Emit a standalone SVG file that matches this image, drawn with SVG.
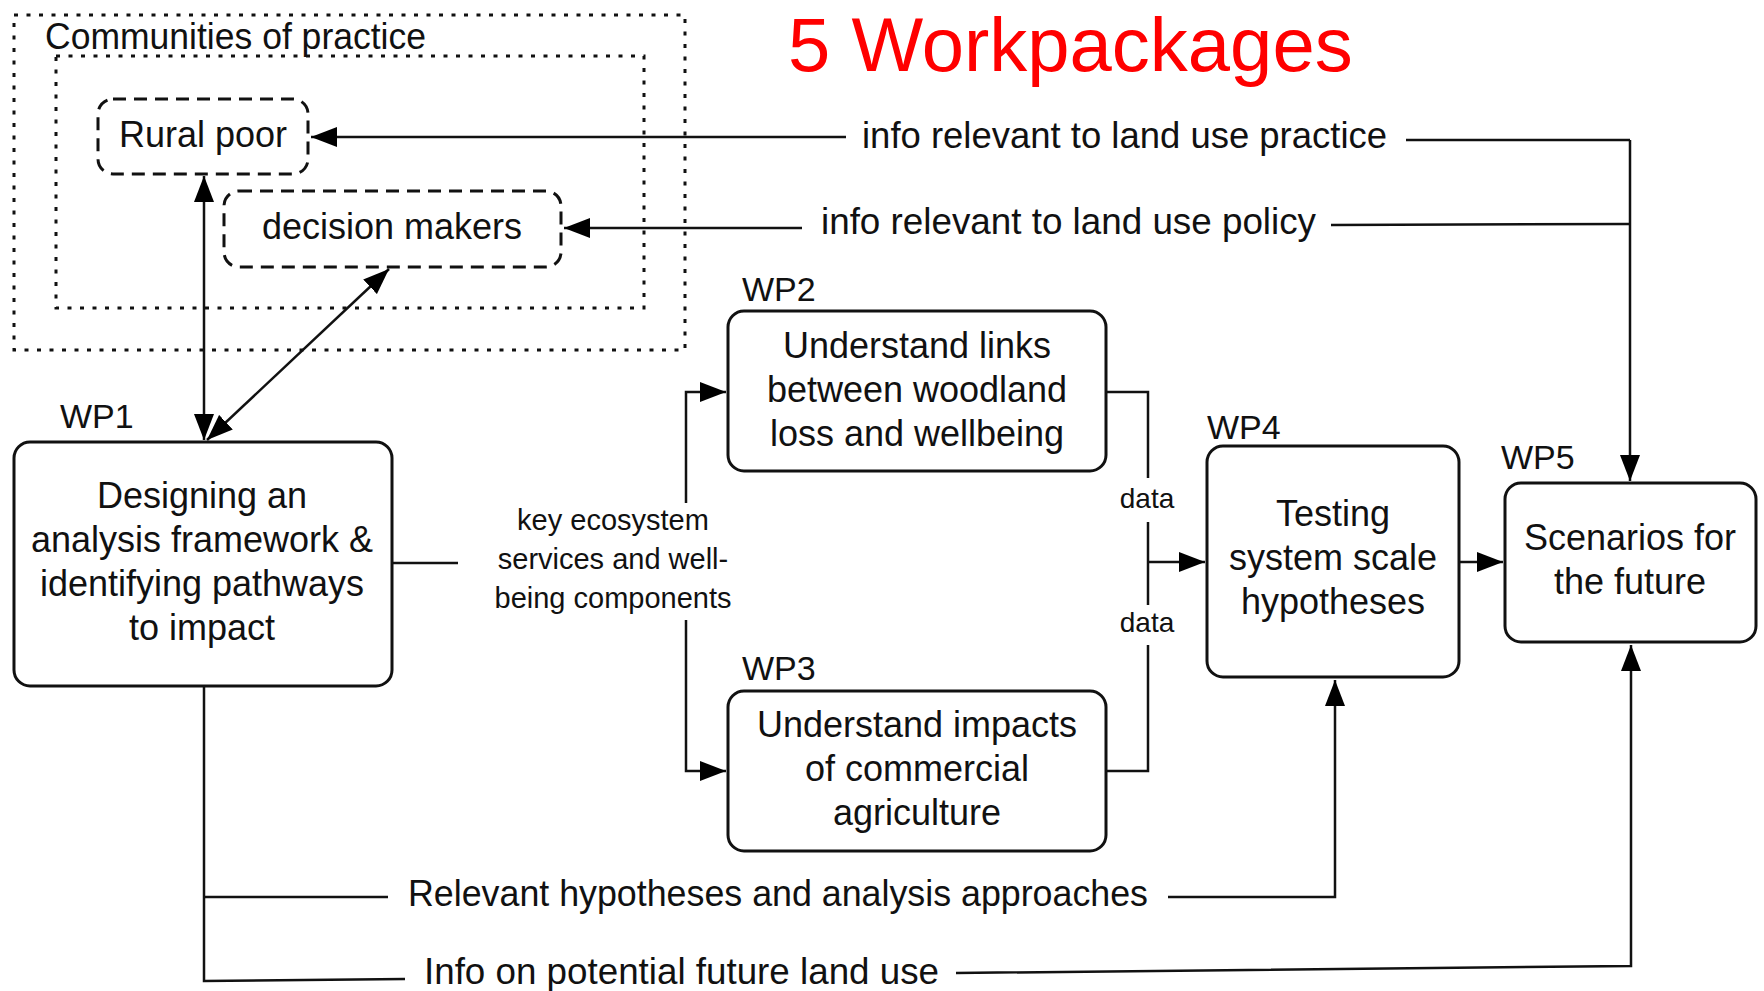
<svg xmlns="http://www.w3.org/2000/svg" width="1764" height="991" viewBox="0 0 1764 991">
<defs>
<marker id="ah" markerUnits="userSpaceOnUse" markerWidth="26" markerHeight="20" refX="26" refY="10" orient="auto-start-reverse" viewBox="0 0 26 20">
<path d="M0,0 L26,10 L0,20 z" fill="#000"/>
</marker>
<style>
text{font-family:"Liberation Sans",Arial,sans-serif;fill:#111}
.t{font-size:36px;text-anchor:middle}
.lab{font-size:34px}
.edge{font-size:36px}
.sm{font-size:29px;text-anchor:middle}
.box{fill:#fff;stroke:#111;stroke-width:3}
.dash{fill:#fff;stroke:#111;stroke-width:3;stroke-dasharray:13 8}
.dot{fill:none;stroke:#111;stroke-width:3;stroke-dasharray:4 8.5}
.ln{fill:none;stroke:#111;stroke-width:2.5}
.ar{marker-end:url(#ah)}
.ar2{marker-start:url(#ah);marker-end:url(#ah)}
</style>
</defs>
<rect width="1764" height="991" fill="#fff"/>
<g id="title"><text x="788" y="71" style="font-size:76px;fill:#f00">5 Workpackages</text></g>
<g id="communities">
<rect class="dot" x="14" y="15" width="671" height="335"/>
<rect class="dot" x="56" y="56" width="588" height="252"/>
<text x="45" y="49" style="font-size:36px" textLength="381" lengthAdjust="spacingAndGlyphs">Communities of practice</text>
</g>
<g id="connectors">
<path class="ln ar" d="M846,137 L311,137"/>
<path class="ln" d="M1406,140 L1630,140"/>
<path class="ln ar" d="M1630,140 L1630,481"/>
<path class="ln ar" d="M802,228 L564,228"/>
<path class="ln" d="M1331,225 L1630,224"/>
<path class="ln ar2" d="M204,176 L204,440"/>
<path class="ln ar2" d="M389,269 L207,440"/>
<path class="ln" d="M392,563 L458,563"/>
<path class="ln ar" d="M686,503 L686,392 L726,392"/>
<path class="ln ar" d="M686,620 L686,771 L726,771"/>
<path class="ln" d="M1106,392 L1148,392 L1148,478"/>
<path class="ln" d="M1148,522 L1148,605"/>
<path class="ln" d="M1148,645 L1148,771 L1106,771"/>
<path class="ln ar" d="M1148,562 L1205,562"/>
<path class="ln ar" d="M1459,562 L1503,562"/>
<path class="ln" d="M204,686 L204,981 L405,979"/>
<path class="ln" d="M204,897 L388,897"/>
<path class="ln ar" d="M1168,897 L1335,897 L1335,680"/>
<path class="ln ar" d="M956,973 L1631,966 L1631,645"/>
<text class="sm" x="613" y="530">key ecosystem</text>
<text class="sm" x="613" y="569">services and well-</text>
<text class="sm" x="613" y="608">being components</text>
<text class="sm" x="1147" y="508" style="font-size:28px">data</text>
<text class="sm" x="1147" y="632" style="font-size:28px">data</text>
<text class="edge" x="862" y="148" textLength="525" lengthAdjust="spacingAndGlyphs">info relevant to land use practice</text>
<text class="edge" x="821" y="234" textLength="495" lengthAdjust="spacingAndGlyphs">info relevant to land use policy</text>
<text class="edge" x="408" y="906" textLength="740" lengthAdjust="spacingAndGlyphs">Relevant hypotheses and analysis approaches</text>
<text class="edge" x="424" y="984" textLength="515" lengthAdjust="spacingAndGlyphs">Info on potential future land use</text>
</g>
<g id="rural-poor">
<rect class="dash" x="98" y="99" width="210" height="75" rx="15"/>
<text class="t" x="203" y="147">Rural poor</text>
</g>
<g id="decision-makers">
<rect class="dash" x="224" y="191" width="337" height="76" rx="15"/>
<text class="t" x="392" y="239">decision makers</text>
</g>
<g id="wp1">
<text class="lab" x="60" y="428">WP1</text>
<rect class="box" x="14" y="442" width="378" height="244" rx="16"/>
<text class="t" x="202" y="508">Designing an</text>
<text class="t" x="202" y="552">analysis framework &amp;</text>
<text class="t" x="202" y="596">identifying pathways</text>
<text class="t" x="202" y="640">to impact</text>
</g>
<g id="wp2">
<text class="lab" x="742" y="301">WP2</text>
<rect class="box" x="728" y="311" width="378" height="160" rx="16"/>
<text class="t" x="917" y="358">Understand links</text>
<text class="t" x="917" y="402">between woodland</text>
<text class="t" x="917" y="446">loss and wellbeing</text>
</g>
<g id="wp3">
<text class="lab" x="742" y="680">WP3</text>
<rect class="box" x="728" y="691" width="378" height="160" rx="16"/>
<text class="t" x="917" y="737">Understand impacts</text>
<text class="t" x="917" y="781">of commercial</text>
<text class="t" x="917" y="825">agriculture</text>
</g>
<g id="wp4">
<text class="lab" x="1207" y="439">WP4</text>
<rect class="box" x="1207" y="446" width="252" height="231" rx="16"/>
<text class="t" x="1333" y="526">Testing</text>
<text class="t" x="1333" y="570">system scale</text>
<text class="t" x="1333" y="614">hypotheses</text>
</g>
<g id="wp5">
<text class="lab" x="1501" y="469">WP5</text>
<rect class="box" x="1505" y="483" width="251" height="159" rx="16"/>
<text class="t" x="1630" y="550">Scenarios for</text>
<text class="t" x="1630" y="594">the future</text>
</g>
</svg>
